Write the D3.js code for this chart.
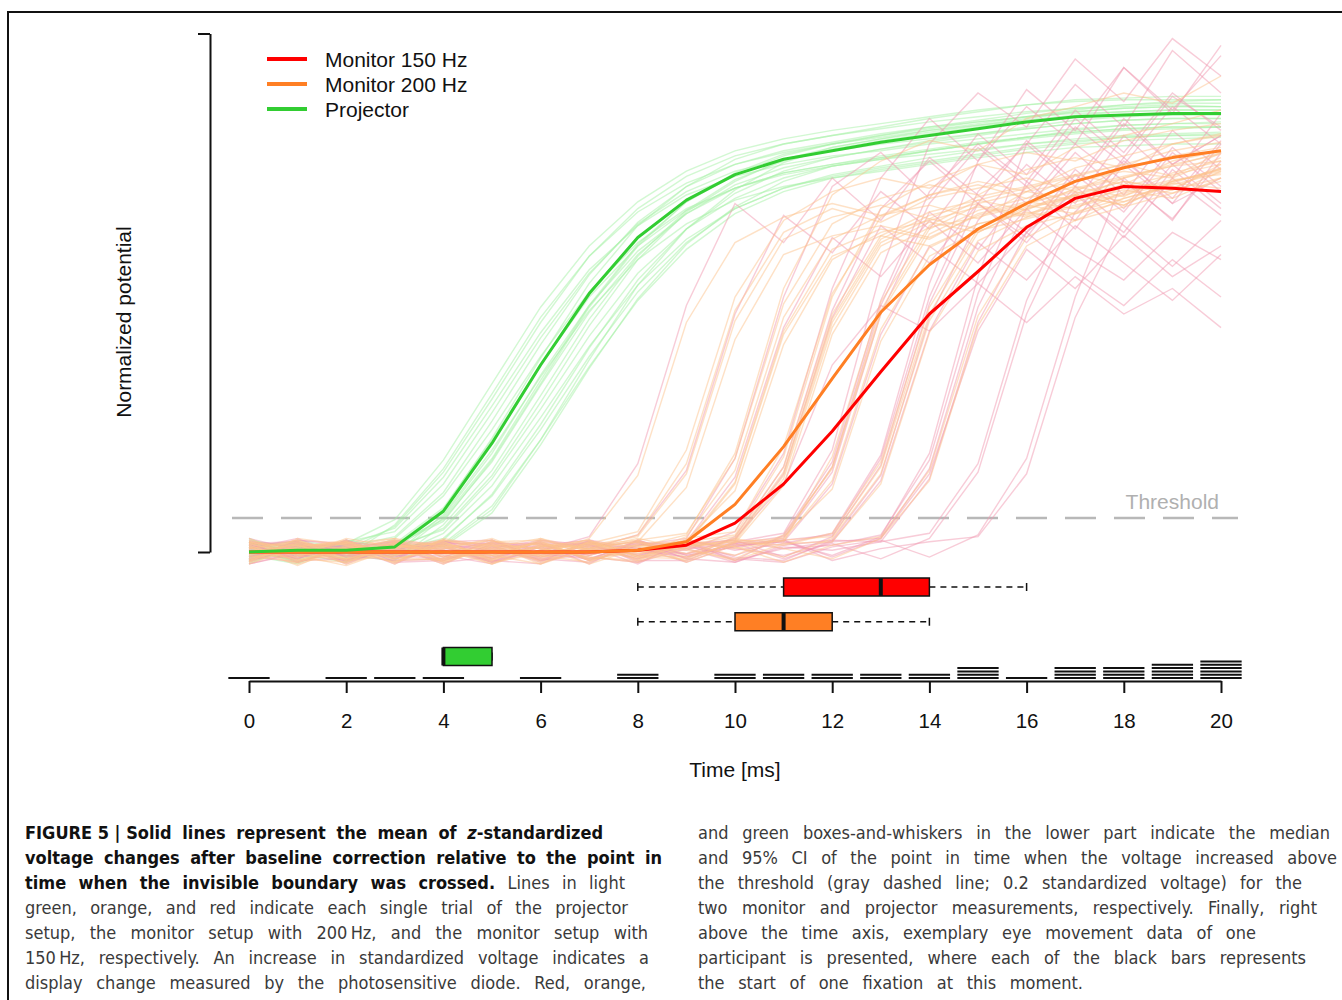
<!DOCTYPE html>
<html>
<head>
<meta charset="utf-8">
<script src="https://cdnjs.cloudflare.com/ajax/libs/d3/7.8.5/d3.min.js"></script>
<style>
  html, body { margin: 0; padding: 0; background: #fff; }
  svg { display: block; }
  .chart text { font-family: "Liberation Sans", Arial, sans-serif; fill: #111; }
  .caption text { font-family: "Liberation Sans Narrow", "DejaVu Sans Condensed", "Liberation Sans", sans-serif; font-size: 18px; }
  .caption .b { font-weight: bold; fill: #111; }
  .caption .bi { font-weight: bold; font-style: italic; fill: #111; }
  .caption .r { font-weight: normal; fill: #3a3a3a; }
</style>
</head>
<body>
<svg id="figure" width="1342" height="1000"></svg>
<script>
(function (d3) {
    'use strict';

    // sample times of every trace, in ms
    var times = [0, 1, 2, 3, 4, 5, 6, 7, 8, 9, 10, 11, 12, 13, 14, 15, 16, 17, 18, 19, 20];
    var timeTicks = [0, 2, 4, 6, 8, 10, 12, 14, 16, 18, 20];

    var seriesNames  = ['Monitor 150 Hz', 'Monitor 200 Hz', 'Projector'];
    var seriesColors = ['#ff0000', '#ff7f24', '#32cd32'];
    var trialColors  = ['#f29ab2', '#fdc48e', '#a6f2a6'];

    var meanMonitor150 = [0, 0, 0, 0, 0, 0, 0, 0, 0.01, 0.04, 0.17, 0.40, 0.71, 1.06, 1.40, 1.65, 1.91, 2.08, 2.15, 2.14, 2.12];
    var meanMonitor200 = [0, 0, 0, 0, 0, 0, 0, 0, 0.01, 0.06, 0.28, 0.62, 1.02, 1.41, 1.69, 1.90, 2.05, 2.18, 2.26, 2.32, 2.36];
    var meanProjector  = [0, 0.01, 0.01, 0.03, 0.24, 0.64, 1.10, 1.52, 1.85, 2.07, 2.22, 2.31, 2.36, 2.41, 2.45, 2.49, 2.53, 2.56, 2.57, 2.58, 2.58];

    var trialsProjector = [
        [0.03, -0.04, 0.05, 0.19, 0.54, 0.99, 1.44, 1.80, 2.06, 2.24, 2.36, 2.43, 2.48, 2.52, 2.56, 2.60, 2.63, 2.65, 2.66, 2.66, 2.66],
        [-0.05, 0.02, 0.04, 0.14, 0.44, 0.86, 1.29, 1.66, 1.92, 2.10, 2.21, 2.28, 2.33, 2.36, 2.40, 2.43, 2.46, 2.49, 2.51, 2.52, 2.52],
        [0.06, -0.02, 0.01, 0.15, 0.47, 0.90, 1.35, 1.74, 2.02, 2.21, 2.33, 2.40, 2.45, 2.49, 2.53, 2.56, 2.59, 2.61, 2.62, 2.63, 2.62],
        [-0.07, 0.04, -0.03, 0.08, 0.33, 0.72, 1.15, 1.53, 1.82, 2.02, 2.14, 2.22, 2.27, 2.31, 2.34, 2.37, 2.40, 2.42, 2.44, 2.45, 2.45],
        [0.02, -0.06, 0.03, 0.09, 0.35, 0.77, 1.22, 1.63, 1.94, 2.15, 2.28, 2.36, 2.41, 2.46, 2.50, 2.53, 2.56, 2.58, 2.59, 2.60, 2.60],
        [0.05, 0.01, -0.04, 0.03, 0.24, 0.64, 1.10, 1.52, 1.85, 2.07, 2.22, 2.31, 2.36, 2.41, 2.45, 2.49, 2.53, 2.56, 2.57, 2.58, 2.58],
        [-0.03, 0.07, 0.02, -0.01, 0.22, 0.60, 1.03, 1.42, 1.72, 1.93, 2.07, 2.15, 2.20, 2.24, 2.28, 2.32, 2.35, 2.38, 2.39, 2.40, 2.40],
        [0.08, -0.03, 0.05, 0.04, 0.25, 0.67, 1.14, 1.58, 1.92, 2.15, 2.31, 2.40, 2.45, 2.50, 2.55, 2.59, 2.63, 2.66, 2.67, 2.68, 2.68],
        [-0.06, 0.03, -0.02, 0.05, 0.19, 0.53, 0.98, 1.41, 1.75, 1.99, 2.16, 2.26, 2.32, 2.37, 2.41, 2.45, 2.49, 2.52, 2.54, 2.55, 2.55],
        [0.01, -0.05, 0.06, -0.02, 0.20, 0.55, 1.01, 1.45, 1.81, 2.06, 2.23, 2.34, 2.40, 2.45, 2.50, 2.54, 2.58, 2.61, 2.63, 2.64, 2.64],
        [0.04, 0.06, -0.01, 0.03, 0.13, 0.43, 0.84, 1.27, 1.64, 1.90, 2.08, 2.20, 2.27, 2.32, 2.36, 2.40, 2.44, 2.47, 2.49, 2.50, 2.50],
        [-0.02, -0.07, 0.04, 0.02, 0.14, 0.45, 0.88, 1.33, 1.72, 2.00, 2.18, 2.31, 2.38, 2.43, 2.47, 2.51, 2.55, 2.59, 2.61, 2.62, 2.62],
        [0.07, 0.02, -0.05, 0.01, 0.08, 0.33, 0.72, 1.15, 1.53, 1.82, 2.02, 2.14, 2.22, 2.27, 2.32, 2.36, 2.40, 2.43, 2.45, 2.46, 2.47],
        [-0.04, 0.05, 0.03, -0.03, 0.07, 0.34, 0.75, 1.20, 1.60, 1.90, 2.11, 2.24, 2.32, 2.37, 2.42, 2.46, 2.50, 2.54, 2.56, 2.57, 2.58],
        [0.03, -0.01, -0.06, 0.05, 0.03, 0.23, 0.63, 1.08, 1.49, 1.81, 2.03, 2.18, 2.27, 2.31, 2.36, 2.40, 2.44, 2.48, 2.51, 2.52, 2.53],
        [-0.05, 0.04, 0.02, -0.04, 0.04, 0.25, 0.66, 1.13, 1.57, 1.90, 2.13, 2.29, 2.38, 2.43, 2.48, 2.52, 2.56, 2.60, 2.63, 2.65, 2.66],
        [0.02, 0.05, -0.03, 0.16, 0.49, 0.93, 1.38, 1.74, 2.00, 2.17, 2.28, 2.35, 2.40, 2.44, 2.48, 2.51, 2.54, 2.56, 2.57, 2.57, 2.57],
        [-0.01, -0.04, 0.07, 0.02, 0.21, 0.58, 1.04, 1.45, 1.77, 1.99, 2.14, 2.23, 2.28, 2.32, 2.36, 2.40, 2.43, 2.46, 2.48, 2.49, 2.50],
        [0.06, 0.00, -0.02, -0.05, 0.16, 0.48, 0.92, 1.37, 1.74, 2.01, 2.19, 2.30, 2.37, 2.42, 2.46, 2.50, 2.54, 2.57, 2.59, 2.60, 2.60],
        [-0.03, 0.03, 0.05, 0.00, 0.05, 0.27, 0.66, 1.09, 1.48, 1.78, 1.99, 2.12, 2.20, 2.25, 2.29, 2.33, 2.37, 2.40, 2.42, 2.43, 2.44],
        [0.04, -0.02, 0.06, 0.12, 0.40, 0.82, 1.26, 1.64, 1.93, 2.12, 2.24, 2.31, 2.36, 2.40, 2.43, 2.46, 2.49, 2.52, 2.54, 2.55, 2.55],
        [-0.04, 0.05, -0.03, 0.04, 0.18, 0.54, 0.99, 1.44, 1.80, 2.06, 2.22, 2.33, 2.40, 2.45, 2.49, 2.53, 2.56, 2.59, 2.61, 2.62, 2.62],
        [0.02, -0.06, 0.04, -0.02, 0.11, 0.39, 0.79, 1.21, 1.57, 1.84, 2.02, 2.14, 2.21, 2.26, 2.30, 2.34, 2.38, 2.41, 2.44, 2.45, 2.46],
        [-0.02, 0.03, -0.05, 0.05, 0.26, 0.66, 1.10, 1.50, 1.80, 2.01, 2.14, 2.23, 2.28, 2.33, 2.37, 2.41, 2.44, 2.47, 2.49, 2.50, 2.50]
    ];

    var trialsMonitor200 = [
        [0.04, -0.06, 0.02, 0.07, -0.03, 0.05, -0.02, 0.08, 0.45, 1.35, 1.82, 1.97, 2.05, 1.98, 2.10, 2.16, 2.08, 2.22, 2.28, 2.21, 2.35],
        [-0.05, 0.03, 0.06, -0.04, 0.01, -0.07, 0.04, 0.02, 0.10, 0.52, 1.42, 1.88, 2.02, 1.94, 2.08, 2.14, 2.20, 2.12, 2.26, 2.33, 2.38],
        [0.07, 0.01, -0.03, 0.05, -0.06, 0.03, 0.08, -0.02, 0.06, 0.38, 1.25, 1.75, 1.86, 1.92, 1.85, 1.98, 2.05, 2.12, 2.06, 2.18, 2.24],
        [-0.02, 0.05, -0.07, 0.02, 0.06, -0.04, 0.01, 0.05, 0.12, 0.60, 1.50, 1.95, 2.12, 2.20, 2.14, 2.28, 2.35, 2.30, 2.42, 2.48, 2.52],
        [0.03, -0.08, 0.04, -0.01, 0.07, 0.02, -0.05, 0.03, -0.02, 0.09, 0.48, 1.38, 1.84, 1.98, 2.04, 1.96, 2.12, 2.18, 2.24, 2.20, 2.32],
        [-0.06, 0.02, 0.05, 0.08, -0.03, -0.01, 0.06, -0.04, 0.04, 0.05, 0.41, 1.30, 1.78, 1.90, 1.84, 1.99, 2.06, 2.02, 2.15, 2.22, 2.28],
        [0.05, 0.04, -0.05, -0.02, 0.03, 0.07, -0.06, 0.01, 0.07, 0.11, 0.55, 1.46, 1.93, 2.08, 2.16, 2.10, 2.25, 2.32, 2.26, 2.40, 2.45],
        [0.01, -0.03, 0.08, 0.03, -0.07, 0.04, 0.02, 0.06, -0.05, 0.07, 0.36, 1.22, 1.72, 1.88, 1.95, 2.03, 1.97, 2.10, 2.18, 2.14, 2.26],
        [-0.04, 0.06, 0.01, -0.06, 0.05, -0.02, 0.03, -0.07, 0.02, 0.04, 0.09, 0.50, 1.40, 1.86, 2.00, 2.07, 2.01, 2.14, 2.21, 2.27, 2.30],
        [0.06, -0.01, -0.04, 0.04, 0.02, 0.08, -0.03, 0.05, 0.01, -0.05, 0.06, 0.43, 1.32, 1.80, 1.94, 1.88, 2.02, 2.09, 2.16, 2.11, 2.24],
        [-0.07, 0.03, 0.07, -0.03, -0.05, 0.01, 0.05, 0.02, -0.04, 0.08, 0.12, 0.62, 1.52, 1.97, 2.10, 2.18, 2.12, 2.26, 2.33, 2.40, 2.46],
        [0.02, 0.07, -0.02, 0.06, 0.04, -0.06, -0.01, 0.04, 0.07, -0.03, 0.05, 0.39, 1.28, 1.76, 1.91, 1.97, 2.04, 1.99, 2.12, 2.19, 2.22],
        [0.04, -0.05, 0.03, 0.01, -0.04, 0.06, 0.07, -0.05, 0.03, 0.02, 0.08, 0.47, 1.37, 1.84, 1.98, 2.05, 2.12, 2.07, 2.20, 2.28, 2.34],
        [-0.03, 0.01, 0.05, -0.07, 0.08, 0.03, -0.04, 0.06, -0.01, 0.05, -0.02, 0.10, 0.49, 1.40, 1.87, 2.01, 2.08, 2.15, 2.09, 2.23, 2.30],
        [0.08, -0.04, -0.06, 0.04, 0.01, -0.03, 0.04, 0.03, 0.06, -0.06, 0.04, 0.07, 0.42, 1.31, 1.79, 1.93, 1.99, 2.06, 2.13, 2.08, 2.20],
        [-0.01, 0.05, 0.02, 0.07, -0.05, 0.05, 0.02, -0.03, -0.06, 0.03, 0.07, 0.06, 0.56, 1.47, 1.92, 2.07, 2.14, 2.21, 2.28, 2.36, 2.41],
        [0.05, -0.02, -0.08, 0.02, 0.06, -0.05, 0.08, 0.01, 0.04, 0.01, -0.04, 0.09, 0.37, 1.24, 1.74, 1.89, 1.96, 2.03, 2.10, 2.17, 2.14],
        [-0.06, 0.08, 0.04, -0.04, 0.02, 0.07, -0.02, -0.06, 0.05, 0.06, 0.03, -0.03, 0.08, 0.46, 1.36, 1.83, 1.97, 2.04, 2.11, 2.18, 2.25],
        [0.03, -0.07, 0.01, 0.05, -0.01, -0.02, 0.03, 0.07, -0.03, -0.04, 0.06, 0.04, 0.11, 0.53, 1.44, 1.90, 2.05, 2.13, 2.20, 2.27, 2.35],
        [0.00, 0.04, -0.05, 0.03, 0.07, 0.04, -0.07, 0.02, 0.08, 0.02, -0.05, 0.05, 0.06, 0.40, 1.29, 1.77, 1.92, 1.99, 2.06, 2.13, 2.20],
        [0.06, 0.02, 0.06, -0.05, -0.04, 0.02, 0.05, -0.04, 0.00, 0.07, 0.03, -0.06, 0.04, 0.09, 0.48, 1.39, 1.85, 2.00, 2.08, 2.16, 2.23],
        [-0.02, -0.06, 0.03, 0.08, 0.03, -0.07, 0.01, 0.05, -0.02, -0.03, 0.08, 0.02, -0.04, 0.08, 0.42, 1.33, 1.80, 1.95, 2.03, 2.11, 2.18],
        [0.02, 0.06, -0.04, 0.01, 0.04, -0.02, -0.07, 0.06, 0.03, 0.10, 0.58, 1.55, 2.10, 2.30, 2.42, 2.36, 2.55, 2.62, 2.70, 2.64, 2.80],
        [-0.04, 0.03, 0.06, -0.02, 0.04, -0.05, 0.03, 0.07, -0.03, 0.04, 0.40, 1.28, 1.74, 1.86, 1.80, 1.93, 2.00, 1.95, 2.08, 2.15, 2.12],
        [0.05, -0.02, 0.01, 0.06, -0.06, 0.04, -0.03, 0.02, 0.06, -0.01, 0.07, 0.45, 1.35, 1.82, 1.96, 1.90, 2.03, 2.10, 2.04, 2.18, 2.25],
        [-0.01, 0.07, -0.04, 0.03, 0.05, -0.02, 0.06, -0.05, 0.02, 0.04, 0.06, 0.08, 0.50, 1.42, 1.90, 2.04, 1.98, 2.11, 2.18, 2.13, 2.28],
        [0.03, -0.05, 0.02, -0.06, 0.07, 0.01, -0.02, 0.04, 0.09, 0.46, 1.36, 1.84, 1.97, 2.04, 1.96, 2.09, 2.15, 2.22, 2.16, 2.30, 2.36],
        [0.06, 0.00, -0.06, 0.05, -0.02, 0.06, 0.04, -0.03, -0.05, 0.05, 0.02, 0.07, 0.09, 0.50, 1.40, 1.88, 2.02, 2.10, 2.04, 2.17, 2.26],
        [-0.05, 0.04, 0.05, -0.01, 0.03, -0.04, 0.07, 0.01, -0.03, 0.06, 0.10, 0.56, 1.50, 2.02, 2.18, 2.28, 2.22, 2.38, 2.45, 2.52, 2.60]
    ];

    var trialsMonitor150 = [
        [0.05, -0.04, 0.07, -0.02, 0.03, -0.06, 0.01, 0.09, 0.52, 1.45, 2.05, 1.82, 2.20, 1.95, 2.32, 2.10, 1.88, 2.25, 2.02, 2.38, 2.15],
        [-0.03, 0.06, -0.05, 0.04, -0.01, 0.07, -0.04, 0.02, 0.10, 0.48, 1.40, 1.98, 1.76, 2.12, 1.90, 2.28, 2.05, 2.40, 2.18, 1.96, 2.30],
        [0.07, -0.02, 0.03, -0.07, 0.05, 0.01, 0.06, -0.05, 0.04, 0.08, 0.55, 1.50, 2.15, 2.35, 2.08, 2.46, 2.22, 2.60, 2.35, 2.70, 2.48],
        [-0.05, 0.02, 0.06, 0.03, -0.06, -0.03, 0.04, 0.07, -0.02, 0.06, 0.44, 1.32, 1.85, 1.62, 1.95, 1.70, 2.02, 1.78, 1.60, 1.88, 1.72],
        [0.02, 0.08, -0.03, 0.05, 0.01, -0.05, -0.07, 0.03, 0.06, -0.04, 0.09, 0.50, 1.42, 2.02, 2.30, 2.05, 2.42, 2.18, 2.55, 2.28, 2.45],
        [-0.07, -0.01, 0.04, -0.04, 0.07, 0.04, 0.02, -0.03, -0.06, 0.05, 0.07, 0.46, 1.38, 1.92, 1.70, 2.05, 1.82, 2.15, 1.92, 1.68, 1.95],
        [0.04, 0.05, -0.06, 0.02, -0.03, 0.06, -0.02, 0.05, 0.02, 0.01, 0.12, 0.58, 1.55, 2.20, 2.55, 2.30, 2.72, 2.48, 2.85, 2.60, 2.92],
        [-0.02, -0.06, 0.02, 0.07, 0.04, -0.04, 0.05, -0.07, 0.07, -0.02, 0.03, 0.08, 0.47, 1.40, 2.00, 1.78, 2.15, 1.90, 2.28, 2.05, 2.20],
        [0.06, 0.03, -0.02, -0.05, -0.04, 0.02, 0.07, 0.04, -0.04, 0.06, -0.05, 0.10, 0.53, 1.48, 2.12, 2.40, 2.18, 2.55, 2.32, 2.68, 2.50],
        [-0.04, 0.07, 0.05, 0.01, 0.06, 0.07, -0.05, 0.01, 0.03, -0.06, 0.04, 0.06, 0.40, 1.28, 1.80, 1.58, 1.88, 1.65, 1.45, 1.72, 1.50],
        [0.03, -0.05, -0.04, 0.06, -0.02, -0.07, 0.03, 0.06, -0.01, 0.04, 0.07, -0.03, 0.09, 0.51, 1.46, 2.05, 1.85, 2.22, 2.00, 2.35, 2.12],
        [0.08, 0.01, 0.03, -0.03, 0.05, 0.05, -0.01, -0.04, 0.05, 0.02, -0.06, 0.04, 0.07, 0.45, 1.38, 1.95, 2.28, 2.05, 2.45, 2.20, 2.58],
        [-0.06, 0.04, -0.07, 0.04, 0.02, -0.02, 0.06, 0.03, -0.07, 0.07, 0.01, 0.05, 0.11, 0.57, 1.58, 2.30, 2.62, 2.40, 2.85, 2.58, 2.98],
        [0.01, -0.03, 0.06, -0.06, -0.05, 0.03, -0.06, 0.07, 0.02, -0.03, 0.05, -0.04, 0.06, 0.42, 1.30, 1.82, 1.60, 1.92, 1.70, 1.48, 1.75],
        [0.05, 0.06, 0.01, 0.02, 0.07, -0.04, 0.04, -0.02, 0.06, 0.03, -0.02, 0.07, -0.03, 0.08, 0.49, 1.44, 2.02, 2.35, 2.10, 2.48, 2.25],
        [-0.04, -0.02, -0.05, 0.07, -0.03, 0.06, 0.02, 0.05, -0.05, -0.05, 0.06, 0.02, 0.04, 0.10, 0.54, 1.52, 2.18, 1.95, 2.32, 2.05, 2.40],
        [0.02, 0.07, 0.04, -0.01, 0.04, 0.01, -0.04, -0.06, 0.04, 0.06, -0.03, -0.05, 0.07, 0.06, 0.43, 1.35, 1.88, 2.12, 1.85, 2.20, 1.98],
        [-0.07, 0.00, -0.02, 0.05, 0.01, -0.06, 0.07, 0.02, 0.01, -0.01, 0.04, 0.06, -0.02, 0.09, 0.58, 1.62, 2.40, 2.75, 2.50, 2.95, 2.70],
        [0.04, -0.04, 0.07, -0.04, 0.06, 0.03, -0.03, 0.04, -0.03, 0.07, 0.02, -0.02, 0.05, -0.04, 0.08, 0.47, 1.40, 2.00, 2.30, 2.08, 2.42],
        [-0.01, 0.05, -0.03, 0.03, -0.07, 0.05, 0.05, -0.05, 0.07, -0.04, -0.06, 0.03, 0.01, 0.06, 0.11, 0.52, 1.48, 2.10, 1.88, 2.25, 2.02],
        [0.06, -0.06, 0.02, 0.06, 0.03, -0.05, 0.01, 0.06, -0.06, 0.02, 0.05, 0.07, -0.05, 0.02, 0.06, 0.09, 0.46, 1.38, 1.95, 2.28, 2.05],
        [-0.03, 0.03, 0.05, -0.02, -0.04, 0.04, -0.05, -0.01, 0.02, 0.05, -0.04, -0.06, 0.03, 0.07, -0.03, 0.10, 0.55, 1.50, 2.20, 1.95, 2.35],
        [0.03, 0.01, -0.05, 0.02, 0.05, -0.03, 0.03, -0.02, 0.05, -0.01, 0.08, 0.40, 1.10, 1.45, 1.30, 1.58, 1.35, 1.62, 1.40, 1.55, 1.32],
        [-0.02, 0.04, 0.03, -0.05, 0.02, 0.05, -0.03, 0.04, -0.04, 0.03, 0.06, 0.11, 0.60, 1.65, 2.40, 2.70, 2.50, 2.90, 2.65, 3.02, 2.80],
        [0.04, -0.03, 0.02, 0.06, -0.05, 0.03, 0.05, -0.04, 0.06, -0.02, 0.03, 0.07, 0.10, 0.55, 1.50, 2.12, 2.40, 2.15, 2.52, 2.28, 2.45],
        [-0.05, 0.06, -0.02, 0.01, 0.04, -0.06, 0.03, 0.05, -0.02, 0.04, -0.05, 0.02, 0.06, 0.08, 0.46, 1.30, 1.78, 1.55, 1.86, 1.62, 1.80],
        [0.02, -0.04, 0.05, -0.03, 0.06, 0.02, -0.05, 0.06, 0.01, -0.03, 0.05, 0.09, 0.50, 1.45, 2.05, 2.38, 2.15, 2.50, 2.28, 2.62, 2.40]
    ];

    var threshold = 0.2;

    // threshold crossing times (ms): whisker low, Q1, median, Q3, whisker high
    var boxLow    = [8, 8, 4];
    var boxQ1     = [11, 10, 4];
    var boxMedian = [13, 11, 4];
    var boxQ3     = [14, 12, 5];
    var boxHigh   = [16, 14, 5];

    // fixation starts of one participant per ms
    var fixationTimes  = [0, 1, 2, 3, 4, 5, 6, 7, 8, 9, 10, 11, 12, 13, 14, 15, 16, 17, 18, 19, 20];
    var fixationCounts = [1, 0, 1, 1, 1, 0, 1, 0, 2, 0, 2, 2, 2, 2, 2, 4, 1, 4, 4, 5, 6];

    var captionLeft = [
        [['b', 'FIGURE\u00a05\u00a0|\u00a0Solid lines represent the mean of '], ['bi', 'z'], ['b', '-standardized']],
        [['b', 'voltage changes after baseline correction relative to the point in']],
        [['b', 'time when the invisible boundary was crossed.'], ['r', ' Lines in light']],
        [['r', 'green, orange, and red indicate each single trial of the projector']],
        [['r', 'setup, the monitor setup with 200\u2009Hz, and the monitor setup with']],
        [['r', '150\u2009Hz, respectively. An increase in standardized voltage indicates a']],
        [['r', 'display change measured by the photosensitive diode. Red, orange,']]
    ];
    var captionRight = [
        [['r', 'and green boxes-and-whiskers in the lower part indicate the median']],
        [['r', 'and 95% CI of the point in time when the voltage increased above']],
        [['r', 'the threshold (gray dashed line; 0.2 standardized voltage) for the']],
        [['r', 'two monitor and projector measurements, respectively. Finally, right']],
        [['r', 'above the time axis, exemplary eye movement data of one']],
        [['r', 'participant is presented, where each of the black bars represents']],
        [['r', 'the start of one fixation at this moment.']]
    ];
    var captionLeftEnds  = [603, 662, 625, 628, 648, 649, 646];
    var captionRightEnds = [1330, 1337, 1302, 1317, 1256, 1306, 1083];

    var svg = d3.select('#figure');

    // page frame
    svg.append('path')
        .attr('d', 'M8,1000V12H1342')
        .attr('fill', 'none')
        .attr('stroke', '#111')
        .attr('stroke-width', 2);

    var chart = svg.append('g').attr('class', 'chart');

    var x = d3.scaleLinear().domain([0, 20]).range([249, 1221]);
    var y = d3.scaleLinear().domain([0, 3.05]).range([552, 33.5]);
    var boxY = d3.scalePoint().domain(seriesNames).range([587, 656.5]);
    var fixY = d3.scaleLinear().domain([0, 6]).range([678, 658.2]);

    var line = d3.line()
        .x(function (d, i) { return x(times[i]); })
        .y(function (d) { return y(d); });

    // y bracket without labels
    chart.append('g')
        .attr('transform', 'translate(210,0)')
        .call(d3.axisLeft(y).tickValues([0, 3.05]).tickFormat('').tickSize(12).tickSizeOuter(0))
        .call(function (g) {
            g.selectAll('path, line').attr('stroke', '#111').attr('stroke-width', 2);
        });

    chart.append('text')
        .attr('transform', 'translate(131,322) rotate(-90)')
        .attr('text-anchor', 'middle')
        .style('font-size', '21px')
        .text('Normalized potential');

    // threshold
    chart.append('line')
        .attr('x1', x(-0.35)).attr('x2', x(20.35))
        .attr('y1', y(threshold)).attr('y2', y(threshold))
        .attr('stroke', '#b8b8b8')
        .attr('stroke-width', 2.5)
        .attr('stroke-dasharray', '31,18');

    chart.append('text')
        .attr('x', 1219)
        .attr('y', y(threshold) - 9)
        .attr('text-anchor', 'end')
        .style('font-size', '21px')
        .style('fill', '#b0b0b0')
        .text('Threshold');

    // single trials, then means on top
    drawTrials(trialsProjector, trialColors[2]);
    drawTrials(trialsMonitor150, trialColors[0]);
    drawTrials(trialsMonitor200, trialColors[1]);

    [meanMonitor150, meanMonitor200, meanProjector].forEach(function (mean, i) {
        chart.append('path')
            .datum(mean)
            .attr('d', line)
            .attr('fill', 'none')
            .attr('stroke', seriesColors[i])
            .attr('stroke-width', 3)
            .attr('stroke-linejoin', 'round');
    });

    // legend
    var legend = chart.selectAll('.legend-item').data(seriesNames).enter().append('g')
        .attr('class', 'legend-item')
        .attr('transform', function (d, i) { return 'translate(267,' + (59 + i * 25) + ')'; });
    legend.append('line')
        .attr('x2', 40)
        .attr('stroke', function (d, i) { return seriesColors[i]; })
        .attr('stroke-width', 4);
    legend.append('text')
        .attr('x', 58)
        .attr('y', 8)
        .style('font-size', '21px')
        .text(String);

    // boxes and whiskers
    var boxes = chart.selectAll('.box').data(seriesNames).enter().append('g')
        .attr('class', 'box')
        .attr('transform', function (d) { return 'translate(0,' + boxY(d) + ')'; });
    boxes.append('line')
        .attr('x1', function (d, i) { return x(boxLow[i]); })
        .attr('x2', function (d, i) { return x(boxQ1[i]); })
        .attr('stroke', '#111').attr('stroke-width', 1.5).attr('stroke-dasharray', '6,5');
    boxes.append('line')
        .attr('x1', function (d, i) { return x(boxQ3[i]); })
        .attr('x2', function (d, i) { return x(boxHigh[i]); })
        .attr('stroke', '#111').attr('stroke-width', 1.5).attr('stroke-dasharray', '6,5');
    boxes.append('line')
        .attr('x1', function (d, i) { return x(boxLow[i]); })
        .attr('x2', function (d, i) { return x(boxLow[i]); })
        .attr('y1', -4).attr('y2', 4)
        .attr('stroke', '#111').attr('stroke-width', 1.5);
    boxes.append('line')
        .attr('x1', function (d, i) { return x(boxHigh[i]); })
        .attr('x2', function (d, i) { return x(boxHigh[i]); })
        .attr('y1', -4).attr('y2', 4)
        .attr('stroke', '#111').attr('stroke-width', 1.5);
    boxes.append('rect')
        .attr('x', function (d, i) { return x(boxQ1[i]); })
        .attr('width', function (d, i) { return x(boxQ3[i]) - x(boxQ1[i]); })
        .attr('y', -9).attr('height', 18)
        .attr('fill', function (d, i) { return seriesColors[i]; })
        .attr('stroke', '#111').attr('stroke-width', 1.5);
    boxes.append('line')
        .attr('x1', function (d, i) { return x(boxMedian[i]); })
        .attr('x2', function (d, i) { return x(boxMedian[i]); })
        .attr('y1', -9).attr('y2', 9)
        .attr('stroke', '#111').attr('stroke-width', 4);

    // fixation bars, one short bar per fixation start
    var fixBars = [];
    fixationTimes.forEach(function (t, i) {
        for (var k = 0; k < fixationCounts[i]; k++) {
            fixBars.push({ t: t, k: k });
        }
    });
    chart.selectAll('.fix').data(fixBars).enter().append('line')
        .attr('class', 'fix')
        .attr('x1', function (d) { return x(d.t - 0.425); })
        .attr('x2', function (d) { return x(d.t + 0.425); })
        .attr('y1', function (d) { return fixY(d.k); })
        .attr('y2', function (d) { return fixY(d.k); })
        .attr('stroke', '#111')
        .attr('stroke-width', 2);

    // time axis
    chart.append('g')
        .attr('transform', 'translate(0,681)')
        .call(d3.axisBottom(x).tickValues(timeTicks).tickSize(12).tickSizeOuter(0).tickPadding(20))
        .call(function (g) {
            g.selectAll('path, line').attr('stroke', '#111').attr('stroke-width', 2);
            g.selectAll('text').style('font-size', '20.5px').attr('fill', '#111');
        });

    chart.append('text')
        .attr('x', x(10))
        .attr('y', 777)
        .attr('text-anchor', 'middle')
        .style('font-size', '21px')
        .text('Time [ms]');

    // caption
    var caption = svg.append('g').attr('class', 'caption');
    drawCaption(caption, captionLeft, 25, captionLeftEnds, 839);
    drawCaption(caption, captionRight, 698, captionRightEnds, 839);

    function drawTrials(trials, color) {
        chart.append('g').selectAll('path').data(trials).enter().append('path')
            .attr('d', line)
            .attr('fill', 'none')
            .attr('stroke', color)
            .attr('stroke-opacity', 0.5)
            .attr('stroke-width', 1.4);
    }

    function toWords(segments) {
        var words = [],
            current = null;
        segments.forEach(function (seg) {
            seg[1].split(' ').forEach(function (part, j) {
                if (j > 0) {
                    current = null;
                }
                if (part === '') {
                    return;
                }
                if (!current) {
                    current = [];
                    words.push(current);
                }
                current.push({ style: seg[0], text: part });
            });
        });
        return words;
    }

    // justified lines: words spread between x0 and the line end
    function drawCaption(g, lines, x0, ends, y0) {
        lines.forEach(function (segments, i) {
            var words = toWords(segments),
                text = g.append('text').attr('y', y0 + i * 25),
                widths = [],
                total = 0,
                gap, pos;

            words.forEach(function (word) {
                var w = 0;
                word.forEach(function (piece, j) {
                    var span = text.append('tspan').attr('class', piece.style).text(piece.text);
                    if (j === 0) {
                        piece.node = span;
                    }
                    w += span.node().getComputedTextLength();
                });
                widths.push(w);
                total += w;
            });

            gap = words.length > 1 ? (ends[i] - x0 - total) / (words.length - 1) : 0;
            pos = x0;
            words.forEach(function (word, j) {
                word[0].node.attr('x', pos);
                pos += widths[j] + gap;
            });
        });
    }
}(window.d3));
</script>
</body>
</html>
